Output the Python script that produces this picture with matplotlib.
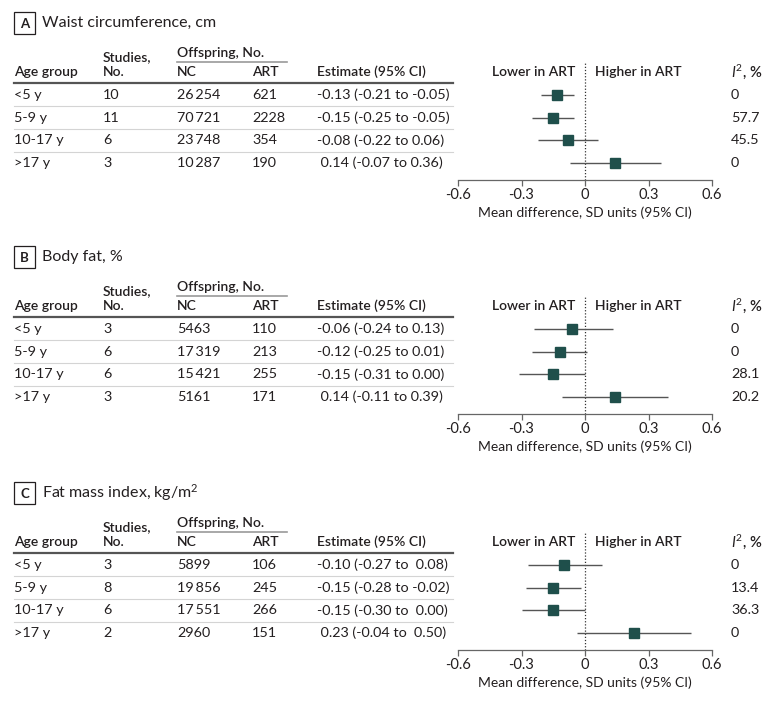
import matplotlib
matplotlib.use("Agg")
import matplotlib.pyplot as plt
from matplotlib.patches import Rectangle

plt.rcParams['font.family'] = ['Lato', 'DejaVu Sans']
plt.rcParams['mathtext.fontset'] = 'custom'
plt.rcParams['mathtext.it'] = 'Lato:italic'
plt.rcParams['mathtext.rm'] = 'Lato'

age_groups = ['<5 y', '5-9 y', '10-17 y', '>17 y']

titles = ['Waist circumference, cm', 'Body fat, %', r'Fat mass index, kg/m$^\mathrm{2}$']
letters = ['A', 'B', 'C']

studies_a = [10, 11, 6, 3]
nc_a = [26254, 70721, 23748, 10287]
art_a = [621, 2228, 354, 190]
est_a = [-0.13, -0.15, -0.08, 0.14]
lo_a = [-0.21, -0.25, -0.22, -0.07]
hi_a = [-0.05, -0.05, 0.06, 0.36]
i2_a = ['0', '57.7', '45.5', '0']

studies_b = [3, 6, 6, 3]
nc_b = [5463, 17319, 15421, 5161]
art_b = [110, 213, 255, 171]
est_b = [-0.06, -0.12, -0.15, 0.14]
lo_b = [-0.24, -0.25, -0.31, -0.11]
hi_b = [0.13, 0.01, 0.00, 0.39]
i2_b = ['0', '0', '28.1', '20.2']

studies_c = [3, 8, 6, 2]
nc_c = [5899, 19856, 17551, 2960]
art_c = [106, 245, 266, 151]
est_c = [-0.10, -0.15, -0.15, 0.23]
lo_c = [-0.27, -0.28, -0.30, -0.04]
hi_c = [0.08, -0.02, 0.00, 0.50]
i2_c = ['0', '13.4', '36.3', '0']

xticks = [-0.6, -0.3, 0, 0.3, 0.6]
xticklabels = ['-0.6', '-0.3', '0', '0.3', '0.6']

W, H = 780, 701
TXT = '#231f20'
SQ = '#1f4f4b'


def fmt_n(n):
    s = str(n)
    if n >= 10000:
        s = s[:-3] + '\u2009' + s[-3:]
    return s


def fmt_est(e, l, h, pad_hi):
    hs = f"{h:.2f}"
    if pad_hi and h >= 0:
        hs = ' ' + hs
    s = f"{e:.2f} ({l:.2f} to {hs})"
    if e >= 0:
        s = ' ' + s
    return s


fig = plt.figure(figsize=(W / 100, H / 100), dpi=100)
ov = fig.add_axes([0, 0, 1, 1])
ov.set_xlim(0, W)
ov.set_ylim(H, 0)
ov.axis('off')

panels = [
    (studies_a, nc_a, art_a, est_a, lo_a, hi_a, i2_a, 0, False),
    (studies_b, nc_b, art_b, est_b, lo_b, hi_b, i2_b, 234, False),
    (studies_c, nc_c, art_c, est_c, lo_c, hi_c, i2_c, 470, True),
]

fs = 10
rfs = 10.4
for k, (st, nc, art, est, lo, hi, i2, off, pad) in enumerate(panels):
    # panel title
    ov.add_patch(Rectangle((14, 12 + off), 21, 22, fill=False, ec=TXT, lw=0.9))
    ov.text(24.5, 23.5 + off, letters[k], ha='center', va='center', fontsize=9.5,
            weight='bold', color=TXT)
    ov.text(42, 23 + off, titles[k], ha='left', va='center', fontsize=11.5, color=TXT)

    # header
    hw = 'semibold'
    ov.text(103, 57 + off, 'Studies,', va='center', fontsize=fs, weight=hw, color=TXT)
    ov.text(177, 53 + off, 'Offspring, No.', va='center', fontsize=fs, weight=hw, color=TXT)
    ov.plot([177, 287], [61.5 + off, 61.5 + off], color='#9a9a9a', lw=1.2)
    for x, t in [(14, 'Age group'), (103, 'No.'), (177, 'NC'), (252, 'ART'),
                 (317, 'Estimate (95% CI)')]:
        ov.text(x, 72 + off, t, va='center', fontsize=fs, weight=hw, color=TXT)
    ov.text(575, 72 + off, 'Lower in ART', ha='right', va='center', fontsize=fs,
            weight=hw, color=TXT)
    ov.text(595, 72 + off, 'Higher in ART', ha='left', va='center', fontsize=fs,
            weight=hw, color=TXT)
    ov.text(731, 72 + off, r'$\mathit{I}^\mathrm{2}$, %', ha='left', va='center',
            fontsize=10.5, weight=hw, color=TXT)
    ov.plot([14, 453], [83 + off, 83 + off], color='#555555', lw=1.6)

    # rows
    for i in range(4):
        y = 95 + i * 22.67 + off
        ov.text(14, y, age_groups[i], va='center', fontsize=rfs, color=TXT)
        ov.text(103, y, str(st[i]), va='center', fontsize=rfs, color=TXT)
        ov.text(177, y, fmt_n(nc[i]), va='center', fontsize=rfs, color=TXT)
        ov.text(252, y, fmt_n(art[i]), va='center', fontsize=rfs, color=TXT)
        ov.text(317, y, fmt_est(est[i], lo[i], hi[i], pad), va='center', fontsize=rfs,
                color=TXT)
        ov.text(731, y, i2[i], va='center', fontsize=rfs, color=TXT)
        if i < 3:
            ov.plot([14, 453], [y + 11.3, y + 11.3], color='#d4d4d4', lw=0.8)

    # forest plot
    ax = fig.add_axes([458 / W, 1 - (180 + off) / H, 254 / W, (180 - 62) / H])
    ax.set_xlim(-0.6, 0.6)
    ax.set_ylim(3.75, -1.456)
    ax.patch.set_alpha(0)
    ys = list(range(4))
    ax.hlines(ys, lo, hi, color='#555555', lw=1.0, zorder=2)
    ax.plot(est, ys, 's', color=SQ, markersize=6.8, zorder=3)
    ax.axvline(0, color='#333333', lw=0.9, ls=(0, (1, 1.5)), zorder=1)
    for s in ['top', 'right', 'left']:
        ax.spines[s].set_visible(False)
    ax.spines['bottom'].set_color('#666666')
    ax.spines['bottom'].set_linewidth(0.9)
    ax.set_yticks([])
    ax.set_xticks(xticks)
    ax.set_xticklabels(xticklabels)
    ax.tick_params(axis='x', length=4, width=0.9, color='#666666', pad=2,
                   labelsize=10.5, labelcolor=TXT)
    ax.set_xlabel('Mean difference, SD units (95% CI)', fontsize=fs, color=TXT,
                  labelpad=3)

fig.savefig('out.png', dpi=100, facecolor='white')
